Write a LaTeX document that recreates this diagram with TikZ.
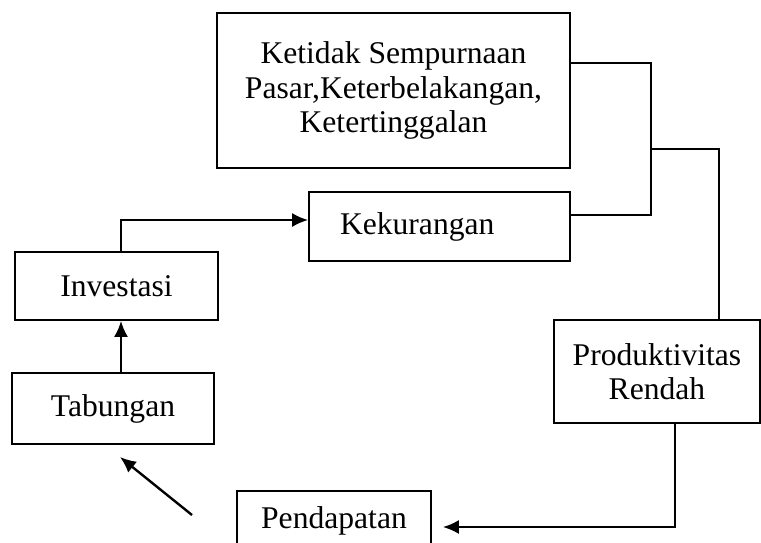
\documentclass[tikz,border=0pt]{standalone}
\usepackage{fontspec}
\setmainfont{Liberation Serif}
\usepackage{tikz}
\usetikzlibrary{arrows.meta}
\usetikzlibrary{positioning}
\usetikzlibrary{calc}

\begin{document}
\begin{tikzpicture}[x=0.5pt, y=-0.5pt, >={Latex[length=8pt,width=7pt]},
    box/.style={draw, line width=0.8pt, inner sep=0pt, align=center,
      font=\fontsize{15.8}{17.2}\selectfont},
    link/.style={line width=0.8pt},
    flow/.style={->, line width=1.2pt}]
  \useasboundingbox (0,0) rectangle (761,542);
  \node[box, minimum width=176.5pt, minimum height=77.5pt] (ketidak)   at (393.5,90.5) {Ketidak Sempurnaan\\Pasar,Keterbelakangan,\\Ketertinggalan};
  \node[box, minimum height=34.5pt, text width=99.5pt, inner xsep=15.5pt, align=left] (kurang) at (439.5,226.5) {Kekurangan};
  \node[box, minimum width=101.5pt, minimum height=34pt]   (invest)    at (116.5,286)  {Investasi};
  \node[box, minimum width=101pt, minimum height=35.5pt]   (tabung)    at (113,408.5)  {Tabungan};
  \node[box, minimum width=103pt, minimum height=51.5pt]   (produk)    at (657,371.5)  {Produktivitas\\Rendah};
  \node[box, minimum width=97pt, minimum height=30pt]      (pendapat)  at (334,521)    {Pendapatan};
  \coordinate (j1)   at (651,149);
  \coordinate (tail) at (192,515);
  \coordinate (head) at (120,457);
  \draw[link] ([yshift=13.75pt]ketidak.east) -| (j1) |- ([yshift=5.75pt]kurang.east);
  \draw[link] (j1) -| ([xshift=31pt]produk.north);
  \draw[flow, shorten >=5.5pt] ([xshift=9pt]produk.south) |- ([yshift=-3pt]pendapat.east);
  \draw[flow] ([xshift=2.25pt]invest.north) |- ([yshift=3.25pt]kurang.west);
  \draw[flow] ([xshift=4pt]tabung.north) -- ([xshift=4pt]tabung.north |- invest.south);
  \draw[flow] (tail) -- (head);
\end{tikzpicture}
\end{document}
